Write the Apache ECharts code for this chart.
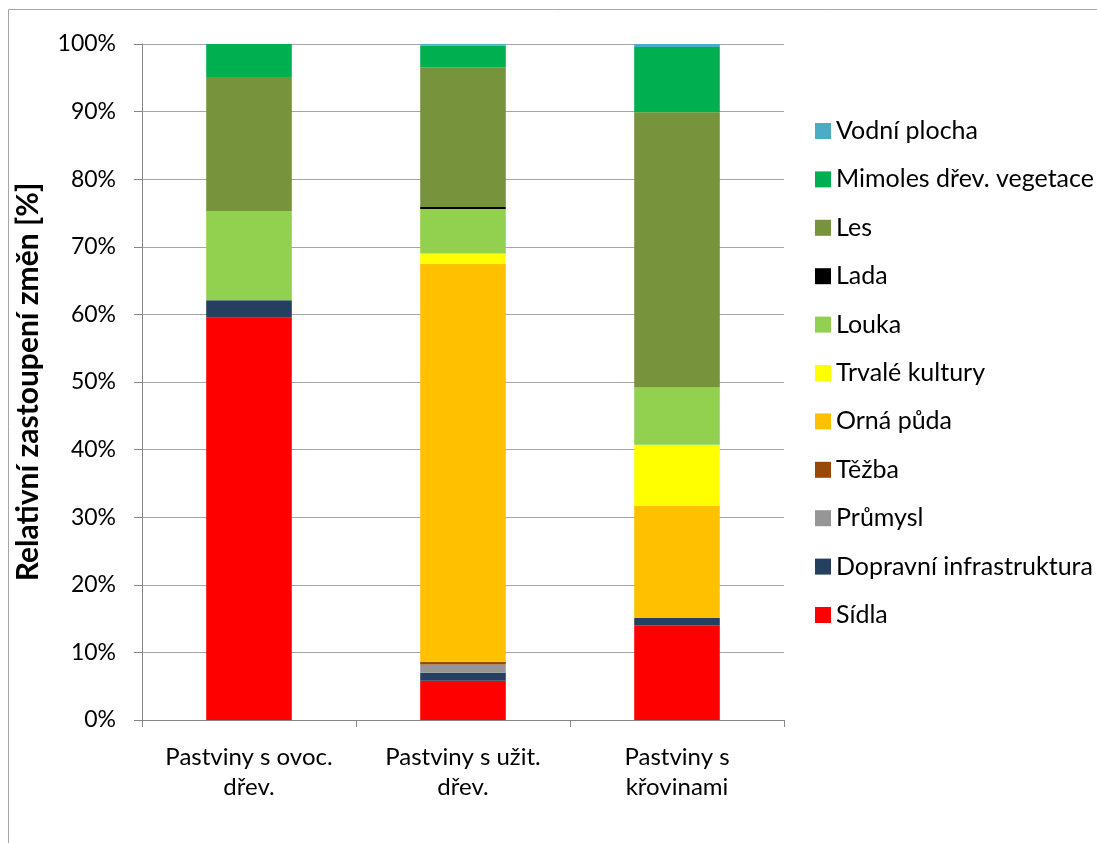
<!DOCTYPE html>
<html>
<head>
    <meta charset="utf-8">
    <script src="https://cdn.jsdelivr.net/npm/echarts@6/dist/echarts.min.js"></script>
    <style>
        html, body { margin: 0; padding: 0; background: #fff; }
    </style>
</head>
<body>
    <div id="main" style="width: 1097px;height:843px;"></div>
    <script type="text/javascript">
        var myChart = echarts.init(document.getElementById('main'));

        // kategorie
        var categories = ['Pastviny s ovoc.\ndřev.', 'Pastviny s užit.\ndřev.', 'Pastviny s\nkřovinami'];

        // hodnoty [%]
        var sidla     = [59.5, 5.8, 14.0];
        var dopravni  = [2.6, 1.2, 1.1];
        var prumysl   = [0, 1.2, 0];
        var tezba     = [0, 0.4, 0];
        var orna      = [0, 58.9, 16.55];
        var trvale    = [0, 1.5, 9.05];
        var louka     = [13.2, 6.6, 8.5];
        var lada      = [0, 0.3, 0];
        var les       = [19.8, 20.65, 40.7];
        var mimoles   = [4.9, 3.2, 9.65];
        var vodni     = [0, 0.25, 0.55];

        var yTicks = [0, 10, 20, 30, 40, 50, 60, 70, 80, 90, 100];

        var seriesDefs = [
            { name: 'Sídla', data: sidla, color: '#FF0000' },
            { name: 'Dopravní infrastruktura', data: dopravni, color: '#243F60' },
            { name: 'Průmysl', data: prumysl, color: '#969696' },
            { name: 'Těžba', data: tezba, color: '#984807' },
            { name: 'Orná půda', data: orna, color: '#FFC000' },
            { name: 'Trvalé kultury', data: trvale, color: '#FFFF00' },
            { name: 'Louka', data: louka, color: '#92D050' },
            { name: 'Lada', data: lada, color: '#000000' },
            { name: 'Les', data: les, color: '#77933C' },
            { name: 'Mimoles dřev. vegetace', data: mimoles, color: '#00B050' },
            { name: 'Vodní plocha', data: vodni, color: '#4BACC6' }
        ];

        var font = 'Lato, "Noto Sans", sans-serif';

        var series = seriesDefs.map(function (s) {
            return {
                name: s.name,
                type: 'bar',
                stack: 'total',
                barWidth: '40%',
                animation: false,
                itemStyle: { color: s.color },
                data: s.data
            };
        });

        var option = {
            backgroundColor: '#ffffff',
            textStyle: { fontFamily: font },
            graphic: [{
                type: 'rect',
                shape: { x: 8.5, y: 9.5, width: 2000, height: 2000 },
                style: { fill: 'none', stroke: '#a6a6a6', lineWidth: 1 },
                silent: true
            }],
            grid: {
                left: 142,
                right: 313,
                top: 44,
                bottom: 123,
                outerBoundsMode: 'none',
                containLabel: false
            },
            legend: {
                orient: 'vertical',
                left: 810,
                top: 113.5,
                itemWidth: 16,
                itemHeight: 16,
                itemGap: 23.4,
                icon: 'rect',
                textStyle: { fontFamily: font, fontSize: 25, color: '#000' },
                data: seriesDefs.map(function (s) { return s.name; }).reverse()
            },
            xAxis: {
                type: 'category',
                data: categories,
                axisLine: { lineStyle: { color: '#868686' } },
                axisTick: { show: true, length: 7, lineStyle: { color: '#868686' } },
                axisLabel: {
                    interval: 0,
                    color: '#000',
                    fontSize: 24,
                    lineHeight: 30,
                    margin: 22,
                    fontFamily: font
                }
            },
            yAxis: {
                type: 'value',
                min: 0,
                max: 100,
                interval: 10,
                name: 'Relativní zastoupení změn [%]',
                nameLocation: 'middle',
                nameGap: 99,
                nameTextStyle: { fontSize: 30, fontWeight: 'bold', color: '#000', fontFamily: font },
                axisLine: { show: true, lineStyle: { color: '#868686' } },
                axisTick: { show: true, length: 8, lineStyle: { color: '#868686' } },
                axisLabel: {
                    color: '#000',
                    fontSize: 23,
                    margin: 26,
                    fontFamily: font,
                    formatter: function (v) { return yTicks.indexOf(v) >= 0 ? v + '%' : ''; }
                },
                splitLine: { lineStyle: { color: '#a6a6a6' } }
            },
            series: series
        };

        myChart.setOption(option);
    </script>
</body>
</html>
